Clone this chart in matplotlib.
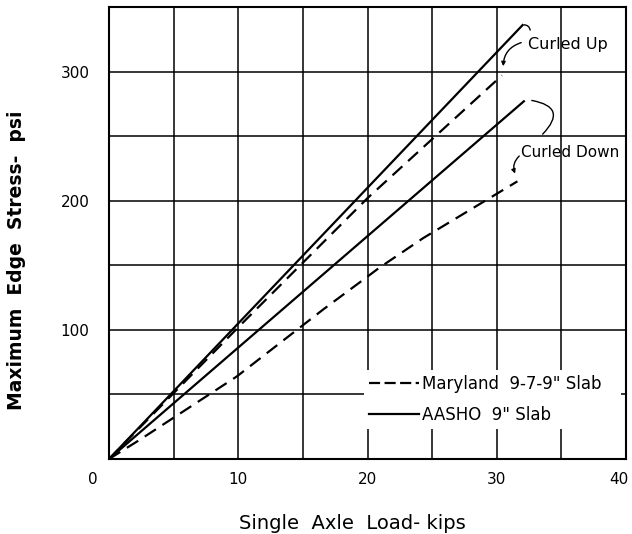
import matplotlib
matplotlib.use("Agg")
import matplotlib.pyplot as plt
from matplotlib.lines import Line2D
from matplotlib.ticker import MultipleLocator
import matplotlib.transforms as mtransforms

# Belastung (kips) und Randspannung (psi)
aasho_up_x = [0, 32]
aasho_up_y = [0, 336]
aasho_down_x = [0, 32.1]
aasho_down_y = [0, 277]
maryland_up_x = [0, 10, 20, 30.4]
maryland_up_y = [0, 102, 202, 297]
maryland_down_x = [0, 2.4, 9.9, 16.6, 19.7, 20.9, 24.3, 31.6]
maryland_down_y = [0, 15, 64, 116, 139, 148, 171, 215]

x_ticks = [0, 10, 20, 30, 40]
y_ticks = [0, 100, 200, 300]
y_tick_labels = ["", "100", "200", "300"]

fig = plt.figure(figsize=(6.32, 5.34), dpi=100)
ax = fig.add_axes([109 / 632, 1 - 459 / 534, 517 / 632, 452 / 534])

ax.set_xlim(0, 40)
ax.set_ylim(0, 350)
ax.xaxis.set_minor_locator(MultipleLocator(5))
ax.yaxis.set_minor_locator(MultipleLocator(50))
ax.set_xticks(x_ticks)
ax.set_yticks(y_ticks)
ax.set_yticklabels(y_tick_labels)
ax.grid(True, which="both", color="black", linewidth=1.1, zorder=0)
ax.set_axisbelow(True)
ax.tick_params(which="both", length=0, labelsize=11)
ax.tick_params(axis="x", pad=9)
ax.tick_params(axis="y", pad=14)
for sp in ax.spines.values():
    sp.set_linewidth(1.5)

# "0" sitzt links neben der Ecke, "40" etwas nach innen
xlbls = ax.get_xticklabels()
xlbls[0].set_transform(xlbls[0].get_transform() + mtransforms.ScaledTranslation(-16 / 100, 0, fig.dpi_scale_trans))
xlbls[-1].set_transform(xlbls[-1].get_transform() + mtransforms.ScaledTranslation(-7 / 100, 0, fig.dpi_scale_trans))

dash = (6, 3.5)
ax.plot(aasho_up_x, aasho_up_y, color="black", lw=1.6, zorder=3)
ax.plot(aasho_down_x, aasho_down_y, color="black", lw=1.6, zorder=3)
ax.plot(maryland_up_x, maryland_up_y, color="black", lw=1.6, dashes=dash, zorder=3)
ax.plot(maryland_down_x, maryland_down_y, color="black", lw=1.6, dashes=dash, zorder=3)

# Beschriftungen
ax.text(32.4, 321, "Curled Up", fontsize=11.5, ha="left", va="center", zorder=4)
ax.text(31.9, 237, "Curled Down", fontsize=11, ha="left", va="center", zorder=4)
arc = dict(arrowstyle="-", color="black", lw=1.0)
ax.annotate("", xy=(32.6, 330), xytext=(31.9, 336),
            arrowprops=dict(arc, connectionstyle="arc3,rad=-0.6"))
ax.annotate("", xy=(30.5, 302), xytext=(32.1, 323),
            arrowprops=dict(arrowstyle="-|>", color="black", lw=1.0, mutation_scale=6,
                            connectionstyle="arc3,rad=0.4"))
ax.annotate("", xy=(33.4, 250), xytext=(32.5, 278),
            arrowprops=dict(arc, connectionstyle="arc3,rad=-1.0"))
ax.annotate("", xy=(31.5, 219), xytext=(31.9, 236),
            arrowprops=dict(arrowstyle="-|>", color="black", lw=1.0, mutation_scale=6,
                            connectionstyle="arc3,rad=0.4"))

handles = [
    Line2D([], [], color="black", lw=1.6, dashes=(5, 2)),
    Line2D([], [], color="black", lw=1.6),
]
leg = ax.legend(handles, ["Maryland  9-7-9\" Slab", "AASHO  9\" Slab"],
                loc="upper left", bbox_to_anchor=(19.7, 27, 19.9, 42), bbox_transform=ax.transData,
                mode="expand", fontsize=12, frameon=True, fancybox=False, borderaxespad=0,
                borderpad=0.3, handlelength=3.0, handletextpad=0.2, labelspacing=0.78)
leg.get_frame().set_facecolor("white")
leg.get_frame().set_edgecolor("none")
leg.get_frame().set_alpha(1)
leg.set_zorder(5)

ax.set_xlabel("Single  Axle  Load- kips", fontsize=14)
ax.xaxis.set_label_coords(0.47, -0.122)
ax.set_ylabel("Maximum  Edge  Stress-  psi", fontsize=13.5, fontweight="bold")
ax.yaxis.set_label_coords(-0.16, 0.44)

fig.savefig("out.png", dpi=100)
